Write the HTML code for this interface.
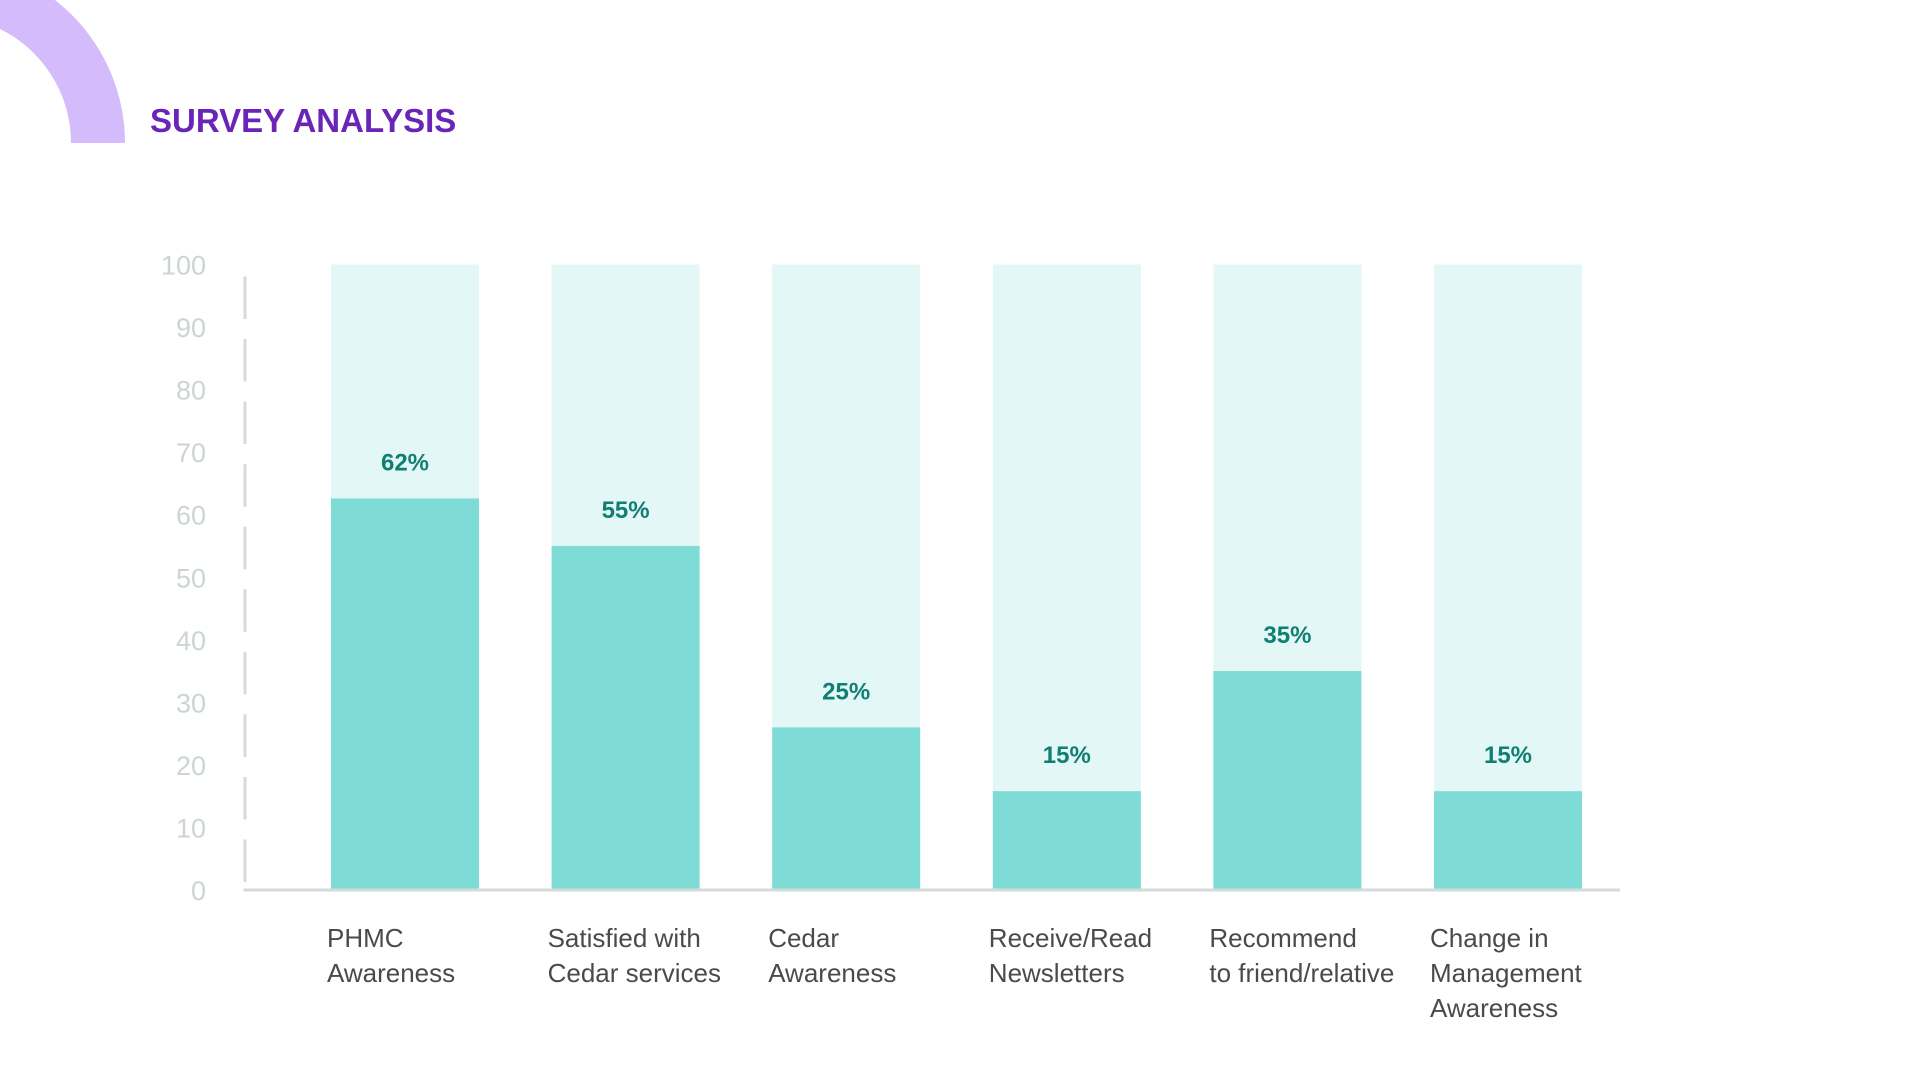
<!DOCTYPE html>
<html><head><meta charset="utf-8">
<style>
html,body{margin:0;padding:0;background:#fff;}
body{width:1920px;height:1080px;position:relative;overflow:hidden;font-family:"Liberation Sans",sans-serif;}
#title{position:absolute;left:150px;top:102px;font-size:33px;font-weight:bold;color:#6a24b8;letter-spacing:0px;}
svg{position:absolute;left:0;top:0;}
</style></head>
<body>
<svg width="1920" height="1080">
<path d="M -56 -38 A 181 181 0 0 1 125 143 L 71 143 A 127 127 0 0 0 -56 16 Z" fill="#d4bcfc"/>
</svg>
<div id="title">SURVEY ANALYSIS</div>
<svg id="chart" width="1920" height="1080"></svg>
<script>
const categories=[["PHMC","Awareness"],["Satisfied with","Cedar services"],["Cedar","Awareness"],["Receive/Read","Newsletters"],["Recommend","to friend/relative"],["Change in","Management","Awareness"]];
const values=[62.6,55,26,15.8,35,15.8];
const valueLabels=["62%","55%","25%","15%","35%","15%"];
const yTicks=[0,10,20,30,40,50,60,70,80,90,100];
const yMax=100;

const NS="http://www.w3.org/2000/svg";
const svg=document.getElementById('chart');
const x0=245,y0=890,yTop=264.5,xEnd=1620;
const barW=148,firstBar=331,step=220.6;
function y(v){return y0-(v/yMax)*(y0-yTop);}
function x(i){return firstBar+i*step;}
function mk(t,a){const e=document.createElementNS(NS,t);for(const k in a)e.setAttribute(k,a[k]);svg.appendChild(e);return e;}

yTicks.forEach((t,i)=>{
  const tx=mk('text',{x:206,y:y(t)+10,'text-anchor':'end','font-size':27,fill:'#ccd5d5','font-family':'Liberation Sans, sans-serif'});
  
  
  tx.textContent=t;
  if(i<yTicks.length-1){
    const seg=mk('line',{x1:x0,x2:x0,y1:y(t)-8,y2:y(yTicks[i+1])+12,stroke:'#d3dbdb','stroke-width':3});
    
    
  }
});

values.forEach((v,i)=>{
  const bg=mk('rect',{x:x(i),y:y(yMax),width:barW,height:y(0)-y(yMax),fill:'#e3f7f6'});
  
  
  const b=mk('rect',{x:x(i),y:y(v),width:barW,height:y(0)-y(v),fill:'#7fdbd5'});
  
  
  const vl=mk('text',{x:x(i)+barW/2,y:y(v)-28,'text-anchor':'middle','font-size':24,'font-weight':'bold',fill:'#0f7f73','font-family':'Liberation Sans, sans-serif'});
  
  
  vl.textContent=valueLabels[i];
  const cl=mk('text',{x:x(i)-4,y:947,'font-size':26,fill:'#4a4a4a','font-family':'Liberation Sans, sans-serif'});
  
  
  categories[i].forEach((ln,j)=>{
    const ts=document.createElementNS(NS,'tspan');
    ts.setAttribute('x',x(i)-4);
    ts.setAttribute('dy',j===0?0:35);
    ts.textContent=ln;
    cl.appendChild(ts);
  });
});

const base=mk('line',{x1:x0-1.5,x2:xEnd,y1:y0,y2:y0,stroke:'#d3dbdb','stroke-width':3});


</script>
</body></html>
